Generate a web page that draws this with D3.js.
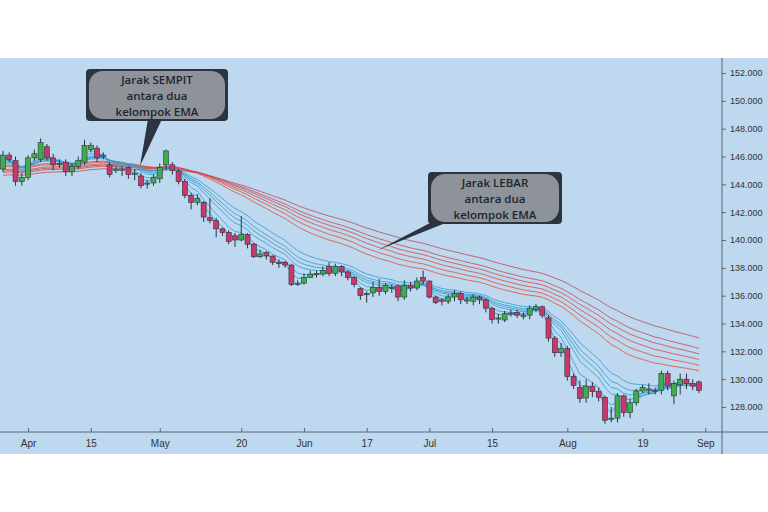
<!DOCTYPE html>
<html>
<head>
<meta charset="utf-8">
<script src="https://cdn.jsdelivr.net/npm/d3@7"></script>
<style>
  body { margin: 0; background: #fff; }
  svg { display: block; }
</style>
</head>
<body>
<div id="chart"></div>
<script>
// Candle data (one per trading day)
var opens = [145.1,146.1,145.7,144.2,144.5,145.9,145.8,146.7,145.9,145.5,145.6,144.9,145.3,145.6,146.5,146.6,146.1,145.4,145.0,145.1,145.2,144.8,144.6,144.1,144.1,144.4,145.4,145.4,144.95,144.2,143.2,142.7,142.7,141.6,141.4,140.8,140.55,140.3,140.0,140.4,139.7,138.8,139.1,138.85,138.4,138.4,138.2,136.9,136.9,137.3,137.6,137.55,138.1,137.6,138.1,137.7,137.3,136.5,136.15,136.2,136.6,136.3,136.6,136.7,135.9,136.75,136.55,137.3,137.05,135.9,135.7,135.6,135.9,136.15,135.7,135.6,135.9,135.7,135.1,134.4,134.25,134.75,134.8,134.6,134.6,135.0,135.2,134.4,132.95,131.9,132.2,130.2,129.4,128.65,129.5,129.1,128.7,127.2,127.2,128.8,127.6,128.3,129.15,129.3,129.2,129.2,130.4,128.8,129.6,130.0,129.7,129.8];
var closes = [146.1,145.8,144.2,144.5,145.9,146.2,147.0,145.9,145.4,145.5,144.9,145.3,145.7,146.8,146.8,145.9,146.1,144.7,145.1,145.1,144.7,144.8,143.9,144.1,144.5,145.2,146.4,145.0,144.2,143.2,142.7,143.0,141.65,141.4,140.8,140.55,139.9,140.0,140.4,139.7,138.8,139.0,138.85,138.4,138.3,138.2,136.8,136.9,137.3,137.55,137.6,137.8,137.6,138.1,137.7,137.3,136.8,136.0,136.15,136.6,136.3,136.75,136.6,135.9,136.75,136.55,137.05,137.05,135.9,135.5,135.6,135.9,136.15,135.7,135.7,135.9,135.7,135.1,134.3,134.4,134.7,134.75,134.6,134.6,135.1,135.2,134.6,132.95,131.9,132.2,130.2,129.55,128.6,129.5,129.1,128.7,127.05,127.2,128.8,127.6,128.3,129.15,129.4,129.3,129.2,130.4,129.5,129.7,130.0,129.7,129.5,129.2];
var highs = [146.4,146.3,146.0,144.8,146.1,146.5,147.3,146.9,146.2,145.8,145.8,145.5,146.0,147.2,147.0,146.8,146.3,145.6,145.3,145.3,145.3,145.1,144.8,144.3,144.7,145.5,146.5,145.6,145.1,144.4,143.4,143.3,142.8,143.0,141.6,140.9,140.7,140.5,141.7,140.5,139.8,139.3,139.2,138.9,138.6,138.5,138.3,137.1,137.6,137.8,137.8,138.1,138.4,138.3,138.2,137.8,137.4,136.6,136.3,137.0,137.2,136.9,136.8,136.8,137.1,137.0,137.3,137.8,137.1,136.0,135.8,136.1,136.4,136.3,135.9,136.1,136.0,135.8,135.2,134.7,134.9,135.0,135.0,134.8,135.3,135.4,135.3,134.6,133.1,132.6,132.4,130.4,129.9,130.0,129.8,129.4,128.8,128.0,129.0,128.9,128.6,129.3,129.6,129.7,129.4,130.6,130.6,129.9,130.4,130.4,130.0,129.9];
var lows = [144.9,145.6,143.9,143.9,144.3,145.7,145.6,145.7,145.0,145.2,144.6,144.6,145.1,145.4,146.3,145.6,145.8,144.5,144.8,144.6,144.4,144.3,143.7,143.7,143.9,144.1,145.0,144.7,144.0,143.0,142.2,142.5,141.3,141.2,140.2,140.3,139.7,139.5,139.9,139.4,138.7,138.7,138.6,138.2,138.0,138.0,136.7,136.7,136.8,137.3,137.3,137.4,137.4,137.4,137.4,137.1,136.6,135.7,135.5,135.9,136.0,136.1,136.2,135.6,135.7,136.3,136.4,136.8,135.8,135.4,135.3,135.4,135.6,135.4,135.4,135.3,135.4,134.8,134.0,134.0,134.1,134.5,134.4,134.3,134.3,134.8,134.4,132.7,131.6,131.6,129.9,129.3,128.3,128.3,128.7,128.4,126.8,126.9,126.9,127.3,127.2,128.1,129.0,128.9,128.9,128.9,129.2,128.2,128.9,129.3,129.2,129.0];

// GMMA periods and their values just before the first candle (read at left edge)
var shortPeriods = [3, 5, 8, 10, 12, 15];
var shortSeeds = [145.9, 145.8, 145.7, 145.6, 145.5, 145.4];
var longPeriods = [30, 35, 40, 45, 50, 60];
var longSeeds = [145.3, 145.2, 145.0, 144.9, 144.8, 144.6];

// axis labels
var yTicks = [128, 130, 132, 134, 136, 138, 140, 142, 144, 146, 148, 150, 152];
var xTickIdx = [4, 14, 25, 38, 48, 58, 68, 78, 90, 102, 112];
var xTickLabels = ["Apr", "15", "May", "20", "Jun", "17", "Jul", "15", "Aug", "19", "Sep"];

var W = 768, H = 512;
var svg = d3.select("#chart").append("svg").attr("width", W).attr("height", H)
  .style("font-family", "'Open Sans', sans-serif");

// background panel
svg.append("rect").attr("x", 0).attr("y", 58).attr("width", W).attr("height", 396)
  .attr("fill", "#bdd8ef");

var x = d3.scaleLinear().domain([0, 111]).range([3, 699]);
var y = d3.scaleLinear().domain([128, 152]).range([407, 73]);

function ema(vals, n, seed) {
  var k = 2 / (n + 1), out = [], prev = seed;
  vals.forEach(function(v) { prev = v * k + prev * (1 - k); out.push(prev); });
  return out;
}

// axis lines
svg.append("line").attr("x1", 722).attr("x2", 722).attr("y1", 58).attr("y2", 454)
  .attr("stroke", "#58677a").attr("stroke-width", 1);
svg.append("line").attr("x1", 0).attr("x2", 768).attr("y1", 432).attr("y2", 432)
  .attr("stroke", "#58677a").attr("stroke-width", 1);

// right axis
var rightAxis = d3.axisRight(y).tickValues(yTicks).tickSize(4).tickFormat(d3.format(".3f"));
var ya = svg.append("g").attr("transform", "translate(722,0)").call(rightAxis);
ya.select(".domain").remove();
ya.selectAll("line").attr("stroke", "#58677a");
ya.selectAll("text").attr("fill", "#333").style("font-size", "9px").attr("x", 8);

// bottom axis
var bottomAxis = d3.axisBottom(x).tickValues(xTickIdx).tickSize(4)
  .tickFormat(function(d, i) { return xTickLabels[i]; });
var xa = svg.append("g").attr("transform", "translate(0,432)").call(bottomAxis);
xa.select(".domain").remove();
xa.selectAll("line").attr("stroke", "#58677a").attr("transform", "translate(0,-4)");
xa.selectAll("text").attr("fill", "#333").style("font-size", "10px").attr("y", 8);

// EMA lines
var line = d3.line().x(function(d, i) { return x(i); }).y(function(d) { return y(d); });
var reds = d3.scaleLinear().domain([0, 5]).range(["#e8502c", "#c4485a"]);
longPeriods.forEach(function(p, k) {
  svg.append("path").datum(ema(closes, p, longSeeds[k])).attr("d", line)
    .attr("fill", "none").attr("stroke", reds(k)).attr("stroke-width", 0.9).attr("opacity", 0.9);
});
shortPeriods.forEach(function(p, k) {
  svg.append("path").datum(ema(closes, p, shortSeeds[k])).attr("d", line)
    .attr("fill", "none").attr("stroke", "#2f9fd0").attr("stroke-width", 0.9).attr("opacity", 0.9);
});

// candles
var idx = d3.range(closes.length);
var g = svg.append("g");
g.selectAll(".wick").data(idx).join("line")
  .attr("x1", function(i) { return x(i); }).attr("x2", function(i) { return x(i); })
  .attr("y1", function(i) { return y(highs[i]); }).attr("y2", function(i) { return y(lows[i]); })
  .attr("stroke", "#2a3340").attr("stroke-width", 1);
g.selectAll(".body").data(idx).join("rect")
  .attr("x", function(i) { return x(i) - 2.5; }).attr("width", 5)
  .attr("y", function(i) { return y(Math.max(opens[i], closes[i])); })
  .attr("height", function(i) { return Math.max(1.2, Math.abs(y(opens[i]) - y(closes[i]))); })
  .attr("fill", function(i) { return closes[i] >= opens[i] ? "#3fae4a" : "#c8386a"; })
  .attr("stroke", "#2a3340").attr("stroke-width", 0.6);

// callouts
function callout(bx, by, bw, bh, tipFrom, tip, lines) {
  var c = svg.append("g");
  c.append("path")
    .attr("d", "M" + tipFrom[0] + "," + (by + bh - 2) + " L" + tip[0] + "," + tip[1] + " L" + tipFrom[1] + "," + (by + bh - 2) + "Z")
    .attr("fill", "#2b3440");
  c.append("rect").attr("x", bx).attr("y", by).attr("width", bw).attr("height", bh)
    .attr("rx", 4).attr("fill", "#2b3440");
  c.append("rect").attr("x", bx + 3).attr("y", by + 2).attr("width", bw - 6).attr("height", bh - 4)
    .attr("rx", 14).attr("fill", "#8e9399");
  lines.forEach(function(t, i) {
    c.append("text").attr("x", bx + bw / 2).attr("y", by + 15 + i * 16)
      .attr("text-anchor", "middle").style("font-size", "11.5px").style("font-weight", "600")
      .attr("fill", "#1c2530").text(t);
  });
}
callout(86, 69, 142, 52, [148, 162], [140, 166], ["Jarak SEMPIT", "antara dua", "kelompok EMA"]);
callout(428, 172, 134, 52, [432, 448], [378, 250], ["Jarak LEBAR", "antara dua", "kelompok EMA"]);
</script>
</body>
</html>
